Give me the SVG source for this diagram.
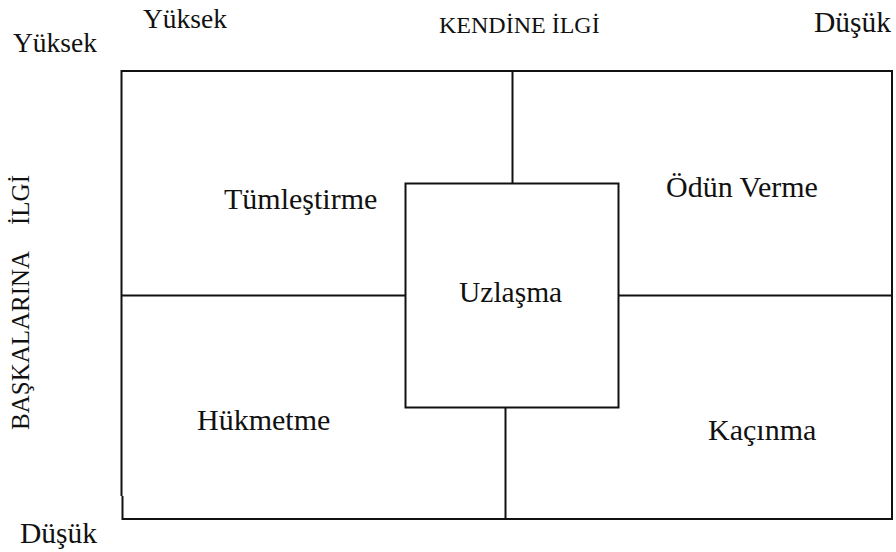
<svg xmlns="http://www.w3.org/2000/svg" width="896" height="552" viewBox="0 0 896 552">
  <style>
    .t { font-family: "Liberation Serif", "DejaVu Serif", serif; fill: #111; }
    .high { font-size: 27.5px; }
    .low { font-size: 29.5px; }
    .title { font-size: 24px; }
    .side { font-size: 25px; }
    .label { font-size: 30px; }
    .line { stroke: #111; stroke-width: 2; fill: none; }
    .box { stroke: #111; stroke-width: 2; fill: #fff; }
  </style>
  <rect width="896" height="552" fill="#fff"/>

  <!-- axis labels -->
  <g id="axis-labels">
    <text class="t high" x="143" y="28">Yüksek</text>
    <text class="t title" x="439" y="33">KENDİNE İLGİ</text>
    <text class="t low" x="814" y="32">Düşük</text>
    <text class="t high" x="13" y="52">Yüksek</text>
    <text class="t low" x="20" y="543">Düşük</text>
    <g transform="translate(29 430) rotate(-90)">
      <text class="t side" x="0" y="0">BAŞKALARINA</text>
      <text class="t side" x="205" y="0">İLGİ</text>
    </g>
  </g>

  <!-- outer frame -->
  <g id="frame">
    <path class="line" d="M121.5 71 H892 V519 H122.5 V496 M121.5 496 V70"/>
  </g>

  <!-- dividing lines between the styles -->
  <g id="connectors">
    <line class="line" x1="512.5" y1="71" x2="512.5" y2="184"/>
    <line class="line" x1="122" y1="295.5" x2="406" y2="295.5"/>
    <line class="line" x1="618" y1="295.5" x2="892" y2="295.5"/>
    <line class="line" x1="505.5" y1="407" x2="505.5" y2="519"/>
  </g>

  <g id="tumlestirme">
    <text class="t label" x="224" y="209">Tümleştirme</text>
  </g>
  <g id="odun-verme">
    <text class="t label" x="666" y="197">Ödün Verme</text>
  </g>
  <g id="hukmetme">
    <text class="t label" x="197" y="430">Hükmetme</text>
  </g>
  <g id="kacinma">
    <text class="t label" x="708" y="440">Kaçınma</text>
  </g>
  <g id="uzlasma">
    <rect class="box" x="405.5" y="183.5" width="213" height="224"/>
    <text class="t label" x="459" y="302" style="font-size:29.5px">Uzlaşma</text>
  </g>
</svg>
